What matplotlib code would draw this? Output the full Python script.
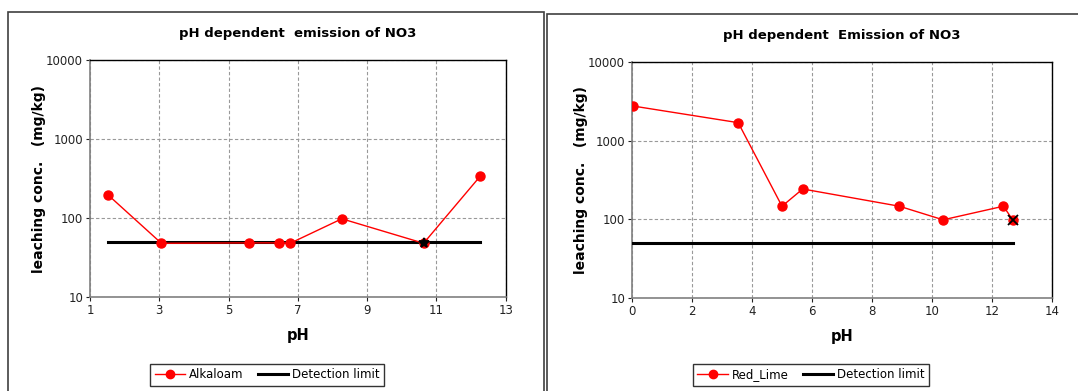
import matplotlib
matplotlib.use("Agg")
import matplotlib.pyplot as plt
from matplotlib.patches import Rectangle
from matplotlib.lines import Line2D

# Left chart data (Alkaloam)
alk_ph = [1.53, 3.06, 5.58, 6.47, 6.78, 8.27, 10.63, 12.27]
alk_conc = [195, 48, 48.5, 48.5, 48, 98, 48, 342]
alk_det_ph = [1.53, 12.27]
alk_det = [50, 50]
alk_star_ph = [10.63]
alk_star = [48]

# Right chart data (Red_Lime)
rl_ph = [0.04, 3.54, 5.0, 5.69, 8.91, 10.37, 12.38, 12.69]
rl_conc = [2750, 1690, 146, 242, 146, 98, 146, 98]
rl_det_ph = [0.04, 12.69]
rl_det = [50, 50]
rl_star_ph = [12.69]
rl_star = [98]

W, H = 1078, 391
fig = plt.figure(figsize=(W / 100, H / 100), dpi=100)
plt.rcParams['font.family'] = ['DejaVu Sans']

def fx(px):
    return px / W

def fy(py):
    return 1 - py / H

# outer panel borders
fig.patches.append(Rectangle((fx(8), fy(395)), fx(544 - 8), (395 - 12) / H,
                             transform=fig.transFigure, fill=False,
                             edgecolor='#404040', linewidth=1.2))
fig.patches.append(Rectangle((fx(547), fy(395)), fx(1085 - 547), (395 - 14) / H,
                             transform=fig.transFigure, fill=False,
                             edgecolor='#404040', linewidth=1.2))

def make_panel(left, right, top, bottom, xs, ys, dxs, dys, sxs, sys_, smark,
               xlim, xticks, title, series_name, title_y, leg_center_x):
    ax = fig.add_axes([fx(left), fy(bottom), fx(right - left), (bottom - top) / H])
    ax.set_yscale('log')
    ax.set_ylim(10, 10000)
    ax.set_xlim(*xlim)
    ax.set_xticks(xticks)
    ax.set_xticklabels([str(t) for t in xticks])
    ax.set_yticks([10, 100, 1000, 10000])
    ax.set_yticklabels(['10', '100', '1000', '10000'])
    ax.minorticks_off()
    ax.grid(True, which='major', color='#999999', linestyle=(0, (3, 2)), linewidth=0.8)
    ax.tick_params(axis='both', labelsize=8.5, colors='#222222', length=3, width=0.8,
                   direction='out', pad=2)
    for s in ['left', 'bottom']:
        ax.spines[s].set_color('#808080')
        ax.spines[s].set_linewidth(1.2)
    for s in ['top', 'right']:
        ax.spines[s].set_color('#000000')
        ax.spines[s].set_linewidth(1.0)
    ax.plot(dxs, dys, color='black', linewidth=2.2, zorder=3)
    ax.plot(xs, ys, color='#ff0000', linewidth=1.0, marker='o', markersize=6.5,
            markerfacecolor='#ff0000', markeredgecolor='#ff0000', zorder=4)
    ax.plot(sxs, sys_, linestyle='none', marker=smark, markersize=7, color='black',
            markeredgewidth=1.3, zorder=5)
    ax.set_xlabel('pH', fontsize=10.5, fontweight='bold', labelpad=8)
    ax.set_ylabel('leaching conc.   (mg/kg)', fontsize=10, fontweight='bold', labelpad=0)
    fig.text(fx((left + right) / 2), fy(title_y), title, ha='center', va='center',
             fontsize=9.5, fontweight='bold')
    handles = [Line2D([], [], color='#ff0000', marker='o', markersize=6, linewidth=1.0),
               Line2D([], [], color='black', linewidth=2.2)]
    leg = fig.legend(handles, [series_name, 'Detection limit'],
                     loc='center', bbox_to_anchor=(fx(leg_center_x), fy(375)),
                     ncol=2, fontsize=8.5, frameon=True, fancybox=False,
                     edgecolor='black', handlelength=2.6, handletextpad=0.3,
                     columnspacing=1.2, borderpad=0.35)
    leg.get_frame().set_linewidth(1.0)
    return ax

make_panel(90, 505.7, 60.3, 297, alk_ph, alk_conc, alk_det_ph, alk_det,
           alk_star_ph, alk_star, '*', (1, 13), [1, 3, 5, 7, 9, 11, 13],
           'pH dependent  emission of NO3', 'Alkaloam', 33, 267)
make_panel(632, 1052, 62, 297.7, rl_ph, rl_conc, rl_det_ph, rl_det,
           rl_star_ph, rl_star, 'x', (0, 14), [0, 2, 4, 6, 8, 10, 12, 14],
           'pH dependent  Emission of NO3', 'Red_Lime', 35, 811)

fig.savefig('out.png', dpi=100)
